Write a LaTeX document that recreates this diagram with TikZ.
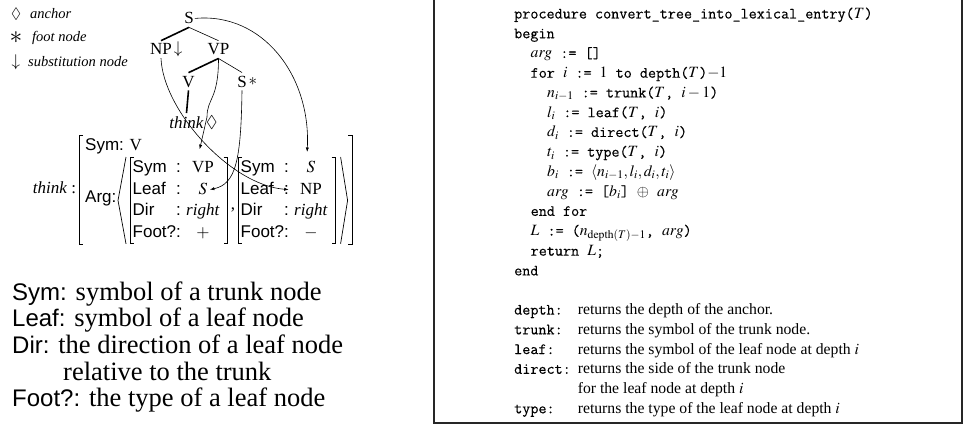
\documentclass[tikz,border=0pt]{standalone}
\usepackage{amsmath}
\usepackage{mathptmx}
\usepackage{amssymb}
\usepackage{fontspec}
\setmainfont{Liberation Serif}
\setsansfont{Liberation Sans}
\setmonofont{Latin Modern Mono}[FakeBold=0.3]
\usetikzlibrary{arrows.meta,matrix,calc,positioning}

% square brackets round a box given by its two corners
\newcommand{\sqbrackets}[2]{
  \draw[avmline] ($(#1)+(4pt,0)$) -- (#1) -- (#1 |- #2) -- ($(#1 |- #2)+(4pt,0)$);
  \draw[avmline] ($(#2 |- #1)+(-4pt,0)$) -- (#2 |- #1) -- (#2) -- ($(#2)+(-4pt,0)$);
}
\newcommand{\fld}[1]{{\fontsize{24}{26.7}\selectfont\sffamily #1}}
\newcommand{\ind}{\hspace*{1.05em}}

\tikzset{
  tnode/.style={font=\fontsize{17}{20}\selectfont, inner xsep=1pt, inner ysep=3pt, anchor=base},
  tmark/.style={font=\fontsize{17}{20}\selectfont, inner sep=0pt},
  heavy/.style={line width=1.6pt},
  light/.style={line width=0.6pt},
  link/.style={->, line width=0.6pt},
  avmline/.style={line width=0.7pt},
  avmsans/.style={font=\fontsize{17}{20}\selectfont\sffamily},
  avmserif/.style={font=\fontsize{17}{20}\selectfont},
  avmbox/.style={matrix of nodes, inner xsep=2.5pt, inner ysep=0pt, row sep=0pt, column sep=0pt,
    nodes={inner ysep=2.8pt, text height=12.5pt, text depth=3.5pt},
    column 1/.style={nodes={avmsans, anchor=base west, inner xsep=0pt}},
    column 2/.style={nodes={avmsans, anchor=base west, inner xsep=0pt}},
    column 3/.style={nodes={avmserif, anchor=base, inner xsep=0pt, minimum width=44pt}}},
  legendmark/.style={font=\fontsize{15}{18}\selectfont, inner sep=0pt},
  legendtext/.style={font=\fontsize{14.5}{17}\selectfont\itshape, inner sep=0pt, anchor=west},
  codefont/.style={font=\fontsize{15.7}{19.74}\selectfont, inner sep=0pt, anchor=base west},
  frame/.style={line width=1.3pt, draw=black!85}
}

\begin{document}
\begin{tikzpicture}[x=1pt, y=-1pt, >={Latex[length=4.5pt,width=3.2pt]}]
  \useasboundingbox (0,0) rectangle (965,428);

  % legend
  \node[legendmark] (anchorsym) at (16,14) {$\lozenge$};
  \node[legendtext] (anchortxt) at (30,14) {anchor};
  \node[legendmark] (footsym) at (16,38) {\scalebox{1.7}{$\ast$}};
  \node[legendtext] (foottxt) at (32,38) {foot node};
  \node[legendmark, font=\fontsize{17}{20}\selectfont] (substsym) at (16,62) {$\downarrow$};
  \node[legendtext] (substtxt) at (28,62) {substitution node};

  % elementary tree
  \node[tnode] (S) at (189,24) {S};
  \node[tnode, label={[tmark, label distance=0.5pt]east:$\downarrow$}] (NP) at (161,55) {NP};
  \node[tnode] (VP) at (218.5,55) {VP};
  \node[tnode] (V) at (188.5,87) {V};
  \node[tnode, label={[tmark, label distance=0.5pt]east:$\ast$}] (Sf) at (242,87) {S};
  \node[tnode, label={[tmark, label distance=1pt]east:$\lozenge$}] (think) at (186.5,128) {\textit{think}};
  \draw[heavy] (S.south) -- (NP.north);
  \draw[light] (S.south) -- (VP.north);
  \draw[heavy] (VP.south) -- (V.north);
  \draw[light] (VP.south) -- (Sf.north);
  \draw[heavy] (V.south) -- (think.north);

  % lexical entry
  \node[avmserif, anchor=base] (entry) at (54.5,193) {\textit{think} :};
  \node[avmserif, anchor=base west, inner sep=0pt] (symV) at (85,150) {\textsf{Sym:} V};
  \node[avmsans, anchor=base west, inner sep=0pt] (arg) at (85,202) {Arg:};
  \matrix (boxA) [avmbox, anchor=north west] at (130,157) {
    Sym   & : & VP \\
    Leaf  & : & $S$ \\
    Dir   & : & \textit{right} \\
    Foot? & : & $+$ \\
  };
  \matrix (boxB) [avmbox, anchor=north west] at (238,157) {
    Sym   & : & $S$ \\
    Leaf  & : & NP \\
    Dir   & : & \textit{right} \\
    Foot? & : & $-$ \\
  };
  \node[avmserif, anchor=base, inner sep=0pt] (sep) at (233,209) {,};
  \sqbrackets{boxA.north west}{boxA.south east}
  \sqbrackets{boxB.north west}{boxB.south east}
  \draw[avmline] ($(boxA.north west)+(-4pt,0)$) -- ($(boxA.west)+(-12pt,0)$) -- ($(boxA.south west)+(-4pt,0)$);
  \draw[avmline] ($(boxB.north east)+(5pt,0)$) -- ($(boxB.east)+(12pt,0)$) -- ($(boxB.south east)+(5pt,0)$);
  \coordinate (outernw) at (79,135);
  \coordinate (outerse) at (352,244);
  \sqbrackets{outernw}{outerse}

  % where the tree nodes go
  \coordinate (kink) at (207,117);
  \draw[link, shorten >=5pt] (S.east) .. controls (262,12) and (311,75) .. ([xshift=-4pt]boxB-1-3.north);
  \draw[link] (NP.south) .. controls (163,110) and (230,185) .. (boxB-2-3.west);
  \draw[link, shorten >=8pt] (VP.south) .. controls (218.5,100) and (207,98) .. (kink) -- ([xshift=-5pt]boxA-1-3.north);
  \draw[link] (Sf.south) .. controls (241,160) and (236,184) .. ([xshift=7pt]boxA-2-3.center);

  % field descriptions
  \node[font=\fontsize{26.5}{26.7}\selectfont, inner sep=0pt, anchor=base west] (fields) at (12,300) {%
    \begin{tabular}[t]{@{}l@{}}
      \fld{Sym:} symbol of a trunk node\\
      \fld{Leaf:} symbol of a leaf node\\
      \fld{Dir:} the direction of a leaf node\\
      \hspace*{51pt}relative to the trunk\\
      \fld{Foot?:} the type of a leaf node
    \end{tabular}};

  % conversion procedure
  \draw[frame] (434,-4) rectangle (962,423);
  \node[codefont] (algo) at (514,18.5) {%
    \ttfamily\begin{tabular}[t]{@{}l@{}}
      procedure convert\_tree\_into\_lexical\_entry($T$)\\
      begin\\
      \ind $arg$ := []\\
      \ind for $i$ := $1$ to depth($T$)$-1$\\
      \ind\ind $n_{i-1}$ := trunk($T$, $i-1$)\\
      \ind\ind $l_i$ := leaf($T$, $i$)\\
      \ind\ind $d_i$ := direct($T$, $i$)\\
      \ind\ind $t_i$ := type($T$, $i$)\\
      \ind\ind $b_i$ := $\langle n_{i-1}, l_i, d_i, t_i\rangle$\\
      \ind\ind $arg$ := [$b_i$] $\oplus$ $arg$\\
      \ind end for\\
      \ind $L$ := ($n_{\mathrm{depth}(T)-1}$, $arg$)\\
      \ind return $L$;\\
      end
    \end{tabular}};
  \node[codefont] (calls) at (514,314.6) {%
    \begin{tabular}[t]{@{}l@{\hspace{7pt}}l@{}}
      \texttt{depth:}  & returns the depth of the anchor.\\
      \texttt{trunk:}  & returns the symbol of the trunk node.\\
      \texttt{leaf:}   & returns the symbol of the leaf node at depth $i$\\
      \texttt{direct:} & returns the side of the trunk node\\
                       & for the leaf node at depth $i$\\
      \texttt{type:}   & returns the type of the leaf node at depth $i$
    \end{tabular}};
\end{tikzpicture}
\end{document}
